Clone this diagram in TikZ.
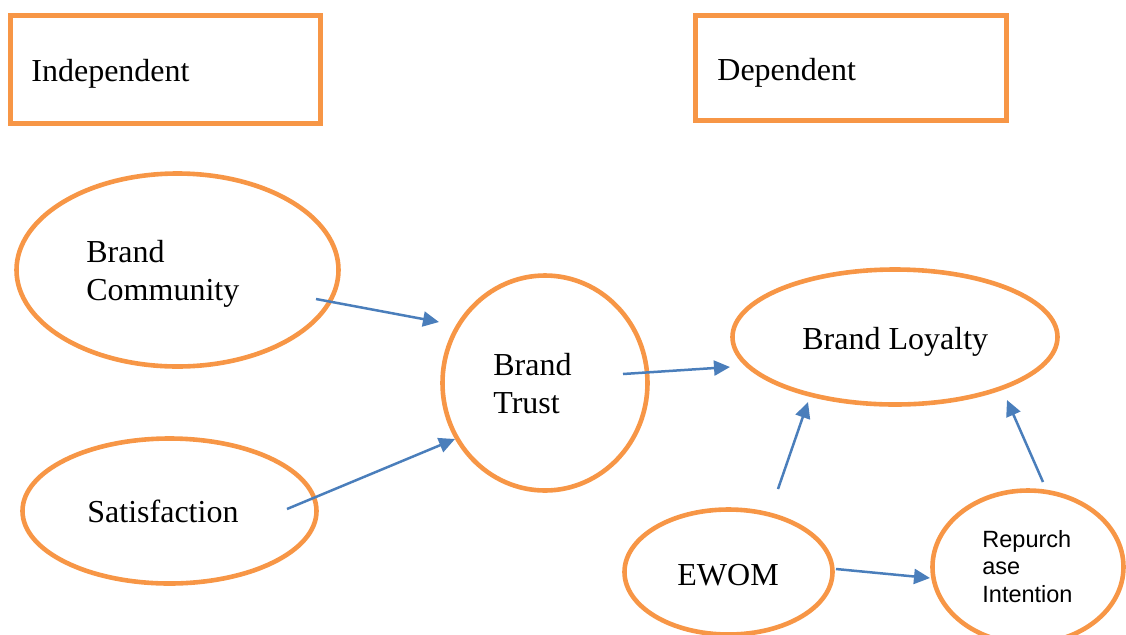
\documentclass[tikz,border=0pt]{standalone}
\usepackage{fontspec}
\setmainfont{Liberation Serif}
\newfontfamily\arialfont{Liberation Sans}
\usetikzlibrary{arrows.meta,shapes.geometric}
\definecolor{boxorange}{HTML}{F79646}
\definecolor{linkblue}{HTML}{4A7EBB}
\tikzset{
  oval/.style={ellipse,draw=boxorange,line width=2.3pt,inner sep=0pt},
  box/.style={rectangle,draw=boxorange,line width=2.3pt,inner sep=0pt},
  lbl/.style={inner sep=0pt,align=left,font=\fontsize{16}{19}\selectfont},
  link/.style={draw=linkblue,line width=1.25pt,-{Triangle[length=8pt,width=7.5pt]}}
}
\begin{document}
\begin{tikzpicture}[x=0.5pt,y=-0.5pt]
\useasboundingbox (0,0) rectangle (1126,634);

% heading boxes
\node[box,minimum width=155pt,minimum height=54pt] (indep) at (165.5,69.5) {};
\node[box,minimum width=155.5pt,minimum height=52.5pt] (dep) at (851,68) {};
\node[lbl,anchor=base west] (tindep) at (31,81) {Independent};
\node[lbl,anchor=base west] (tdep) at (717,80) {Dependent};

% constructs
\node[oval,minimum width=161pt,minimum height=96.5pt] (bc) at (177.5,270) {};
\node[oval,minimum width=147pt,minimum height=72.5pt] (sat) at (169.5,511) {};
\node[oval,minimum width=102.5pt,minimum height=107.5pt] (bt) at (545,383) {};
\node[oval,minimum width=162.5pt,minimum height=67.5pt] (bl) at (895,337) {};
\node[oval,minimum width=104pt,minimum height=62.5pt] (ewom) at (728.5,572) {};
\node[oval,minimum width=95.5pt,minimum height=76.5pt] (rep) at (1028,567) {};

% labels (base = last line)
\node[lbl,anchor=base west] (tbc) at (86,300) {Brand\\Community};
\node[lbl,anchor=base west] (tsat) at (87,522) {Satisfaction};
\node[lbl,anchor=base west] (tbt) at (493,413) {Brand\\Trust};
\node[lbl,anchor=base west] (tbl) at (802,349) {Brand Loyalty};
\node[lbl,anchor=base west] (tewom) at (677,585) {EWOM};
\node[lbl,anchor=base west,font=\arialfont\fontsize{11.75}{13.75}\selectfont] (trep) at (982,602) {Repurch\\ase\\Intention};

% paths
\draw[link] ([shift={(138.5,29)}]bc.center) -- ([shift={(-106,-61)}]bt.center);
\draw[link] ([shift={(117.5,-2)}]sat.center) -- ([shift={(-90,56)}]bt.center);
\draw[link] ([shift={(78,-9)}]bt.center) -- ([shift={(-165,30)}]bl.center);
\draw[link] ([shift={(49.5,-83)}]ewom.center) -- ([shift={(-87,65)}]bl.center);
\draw[link] ([shift={(15,-85)}]rep.center) -- ([shift={(112,63)}]bl.center);
\draw[link] ([shift={(107.5,-3)}]ewom.center) -- ([shift={(-98,11)}]rep.center);
\end{tikzpicture}
\end{document}
